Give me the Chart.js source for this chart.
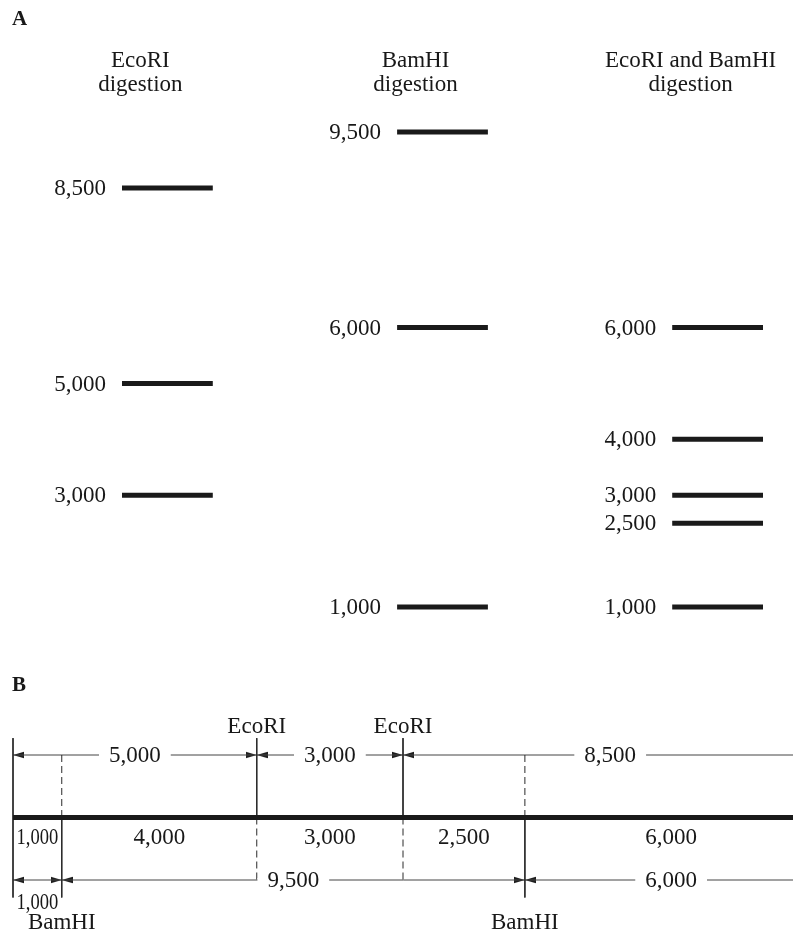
<!DOCTYPE html>
<html>
<head>
<meta charset="utf-8">
<script src="https://cdn.jsdelivr.net/npm/chart.js@4/dist/chart.umd.min.js"></script>
<style>
body { margin: 0; background: #fff; }
canvas { position: absolute; left: 0; }
#gel { top: 0; }
#map { top: 660px; }
</style>
</head>
<body>
<canvas id="gel" width="793" height="660"></canvas>
<canvas id="map" width="793" height="277"></canvas>
<script>
// A: gel lanes, fragment sizes in bp
const laneTitles = [["EcoRI", "digestion"], ["BamHI", "digestion"], ["EcoRI and BamHI", "digestion"]];
const ecoRIBands = [8500, 5000, 3000];
const bamHIBands = [9500, 6000, 1000];
const doubleBands = [6000, 4000, 3000, 2500, 1000];

// B: restriction map, positions in bp
const mapLength = 16500;
const ecoRISites = [5000, 8000];
const bamHISites = [1000, 10500];
const mapFragments = [1000, 4000, 3000, 2500, 6000];
const ecoRIFragments = [5000, 3000, 8500];
const bamHIFragments = [1000, 9500, 6000];

const serif = "'Liberation Serif', 'Times New Roman', serif";
const ink = "#181818";
const fmt = v => v.toLocaleString("en-US");
Chart.defaults.font.family = serif;
Chart.defaults.animation = false;

// ---------- A ----------
const lanes = [ecoRIBands, bamHIBands, doubleBands];
const bandHalf = 0.165;

var gelSets = lanes.map((bands, i) => ({
    data: bands.flatMap(b => [{x: i - bandHalf, y: b}, {x: i + bandHalf, y: b}, {x: i, y: null}]),
    borderColor: "#1a1a1a",
    borderWidth: 5,
    pointRadius: 0,
    spanGaps: false,
    clip: false,
}));

const gelText = {
    id: "gelText",
    afterDatasetsDraw(chart) {
        const ctx = chart.ctx, x = chart.scales.x, y = chart.scales.y;
        ctx.save();
        ctx.fillStyle = ink;
        ctx.font = "bold 21px " + serif;
        ctx.textAlign = "left";
        ctx.fillText("A", 12, 25);
        ctx.font = "23px " + serif;
        lanes.forEach((bands, i) => {
            const cx = x.getPixelForValue(i) - 27;
            ctx.textAlign = "center";
            ctx.textBaseline = "alphabetic";
            ctx.fillText(laneTitles[i][0], cx, 67);
            ctx.fillText(laneTitles[i][1], cx, 91);
            ctx.textAlign = "right";
            ctx.textBaseline = "middle";
            bands.forEach(b => {
                ctx.fillText(fmt(b), x.getPixelForValue(i - bandHalf) - 16, y.getPixelForValue(b) + 1);
            });
        });
        ctx.restore();
    }
};

new Chart(document.getElementById("gel"), {
    type: "line",
    data: { datasets: gelSets },
    options: {
        responsive: false,
        events: [],
        layout: { autoPadding: false, padding: { top: 132, bottom: 53, left: 122, right: 30 } },
        scales: {
            x: { type: "linear", display: false, min: -bandHalf, max: 2 + bandHalf },
            y: { type: "linear", display: false, min: 1000, max: 9500 },
        },
        plugins: { legend: { display: false }, tooltip: { enabled: false } },
    },
    plugins: [gelText],
});

// ---------- B ----------
const TOP = 1.27, BOT = -1.28;
const vert = (sites, y1, y2) => sites.flatMap(s => [{x: s, y: y1}, {x: s, y: y2}, {x: s, y: null}]);
const spans = frags => {
    let s = 0;
    return frags.map(f => { const r = [s, s + f]; s += f; return r; });
};

// arrow head image, tip at the centre, pointing right
function arrowHead() {
    const c = document.createElement("canvas");
    c.width = 22; c.height = 8;
    const g = c.getContext("2d");
    g.fillStyle = "#1e1e1e";
    g.beginPath();
    g.moveTo(0, 0.8); g.lineTo(11, 4); g.lineTo(0, 7.2);
    g.closePath(); g.fill();
    return c;
}
const arrow = arrowHead();
const arrowPoints = (frags, row) => spans(frags).flatMap(([a, b]) => [{x: a, y: row, dir: -1}, {x: b, y: row, dir: 1}]);

var thin = { borderWidth: 1, pointRadius: 0, spanGaps: false, clip: false };
var mapSets = [
    { data: [{x: 0, y: 0}, {x: mapLength, y: 0}], borderColor: "#1a1a1a", borderWidth: 5, pointRadius: 0, clip: false },
    { ...thin, data: vert([0], TOP, BOT), borderColor: "#2a2a2a" },
    { ...thin, data: vert(ecoRISites, TOP, 0), borderColor: "#2a2a2a" },
    { ...thin, data: vert(ecoRISites, 0, -1), borderColor: "#2a2a2a", borderDash: [7, 4] },
    { ...thin, data: vert(bamHISites, 1, 0), borderColor: "#2a2a2a", borderDash: [7, 4] },
    { ...thin, data: vert(bamHISites, 0, BOT), borderColor: "#2a2a2a" },
    { ...thin, data: [{x: 0, y: 1}, {x: mapLength, y: 1}], borderColor: "#444" },
    { ...thin, data: [{x: 0, y: -1}, {x: mapLength, y: -1}], borderColor: "#444" },
    {
        type: "scatter",
        data: arrowPoints(ecoRIFragments, 1).concat(arrowPoints(bamHIFragments, -1)),
        showLine: false,
        pointStyle: arrow,
        pointRadius: 4,
        rotation: c => (c.raw && c.raw.dir < 0 ? 180 : 0),
        clip: false,
    },
];

const mapText = {
    id: "mapText",
    afterDatasetsDraw(chart) {
        const ctx = chart.ctx, x = chart.scales.x, y = chart.scales.y;
        ctx.save();
        ctx.fillStyle = ink;
        ctx.font = "bold 21px " + serif;
        ctx.textAlign = "left";
        ctx.fillText("B", 12, y.getPixelForValue(2.03));
        ctx.font = "23px " + serif;
        ctx.textAlign = "center";
        ecoRISites.forEach(s => ctx.fillText("EcoRI", x.getPixelForValue(s), y.getPixelForValue(1.36)));
        bamHISites.forEach(s => ctx.fillText("BamHI", x.getPixelForValue(s), y.getPixelForValue(-1.79)));
        // double digest fragments under the map
        spans(mapFragments).forEach(([a, b], i) => {
            const pa = x.getPixelForValue(a), pb = x.getPixelForValue(b);
            ctx.fillText(fmt(mapFragments[i]), (pa + pb) / 2, y.getPixelForValue(-0.42), pb - pa - 7);
        });
        // dimension labels
        const dim = (frags, row) => spans(frags).forEach(([a, b], i) => {
            const pa = x.getPixelForValue(a), pb = x.getPixelForValue(b);
            const mid = (pa + pb) / 2, txt = fmt(frags[i]);
            const w = ctx.measureText(txt).width;
            if (w + 24 < pb - pa) {
                const ly = y.getPixelForValue(row);
                ctx.fillStyle = "#fff";
                ctx.fillRect(mid - w / 2 - 10, ly - 2, w + 20, 4);
                ctx.fillStyle = ink;
                ctx.textBaseline = "middle";
                ctx.fillText(txt, mid, ly + 1);
            } else {
                ctx.textBaseline = "alphabetic";
                ctx.fillText(txt, mid, y.getPixelForValue(row - 0.46), pb - pa - 7);
            }
            ctx.textBaseline = "alphabetic";
        });
        dim(ecoRIFragments, 1);
        dim(bamHIFragments, -1);
        ctx.restore();
    }
};

new Chart(document.getElementById("map"), {
    type: "line",
    data: { datasets: mapSets },
    options: {
        responsive: false,
        events: [],
        layout: { autoPadding: false, padding: { top: 95, bottom: 57, left: 13, right: 0 } },
        scales: {
            x: { type: "linear", display: false, min: 0, max: 16000 },
            y: { type: "linear", display: false, min: -1, max: 1 },
        },
        plugins: { legend: { display: false }, tooltip: { enabled: false } },
    },
    plugins: [mapText],
});
</script>
</body>
</html>
